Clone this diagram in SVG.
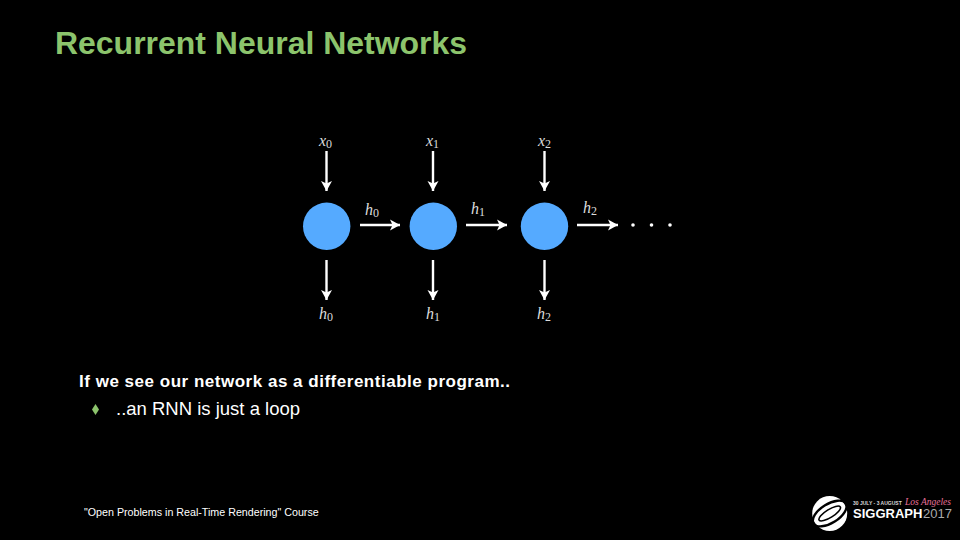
<svg xmlns="http://www.w3.org/2000/svg" width="960" height="540" viewBox="0 0 960 540">
<style>
.t{font-family:"Liberation Sans",Arial,sans-serif}
.m{font-family:"Liberation Serif","Times New Roman",serif;font-style:italic;font-size:16px;fill:#dcdcdc}
.s{font-family:"Liberation Serif","Times New Roman",serif;font-size:12px;fill:#dcdcdc;font-style:normal}
.n{fill:#55aaff}
.c{stroke:#fff;stroke-width:2.4;fill:none}
</style>
<defs>
<marker id="a" markerUnits="userSpaceOnUse" markerWidth="12" markerHeight="12" refX="10" refY="6" orient="auto">
<path d="M0,0.500L10,6L0,11.500L2.500,6Z" fill="#fff"/>
</marker>
</defs>
<rect width="960" height="540" fill="#000"/>
<text class="t" x="55" y="54" font-size="32" font-weight="bold" fill="#8cc46c" textLength="412" lengthAdjust="spacingAndGlyphs">Recurrent Neural Networks</text>
<g id="connectors">
<path class="c" marker-end="url(#a)" d="M326.500 151V191"/>
<path class="c" marker-end="url(#a)" d="M433 151V191"/>
<path class="c" marker-end="url(#a)" d="M544.500 151V191"/>
<path class="c" marker-end="url(#a)" d="M326.500 260V300"/>
<path class="c" marker-end="url(#a)" d="M433 260V300"/>
<path class="c" marker-end="url(#a)" d="M544.500 260V300"/>
<path class="c" marker-end="url(#a)" d="M360 225H400"/>
<path class="c" marker-end="url(#a)" d="M466 225H507"/>
<path class="c" marker-end="url(#a)" d="M577 225H618"/>
</g>
<g id="node-0"><circle class="n" cx="326.700" cy="226.300" r="23.700"/></g>
<g id="node-1"><circle class="n" cx="433.300" cy="226.300" r="23.700"/></g>
<g id="node-2"><circle class="n" cx="544.500" cy="226.300" r="23.700"/></g>
<g id="labels">
<text class="m" x="319" y="146">x<tspan class="s" dy="2">0</tspan></text>
<text class="m" x="426" y="146">x<tspan class="s" dy="2">1</tspan></text>
<text class="m" x="538" y="146">x<tspan class="s" dy="2">2</tspan></text>
<text class="m" x="365" y="215">h<tspan class="s" dy="2">0</tspan></text>
<text class="m" x="471" y="214">h<tspan class="s" dy="2">1</tspan></text>
<text class="m" x="583" y="213">h<tspan class="s" dy="2">2</tspan></text>
<text class="m" x="319" y="319">h<tspan class="s" dy="2">0</tspan></text>
<text class="m" x="426" y="319">h<tspan class="s" dy="2">1</tspan></text>
<text class="m" x="537" y="319">h<tspan class="s" dy="2">2</tspan></text>
</g>
<g id="dots" fill="#fff">
<circle cx="633" cy="225" r="1.800"/><circle cx="651.500" cy="225" r="1.800"/><circle cx="670" cy="225" r="1.800"/>
</g>
<text class="t" x="79" y="387" font-size="17" font-weight="bold" fill="#fff" textLength="431">If we see our network as a differentiable program..</text>
<path d="M95.500 404L99 409.500L95.500 415L92 409.500Z" fill="#8cc46c"/>
<text class="t" x="116" y="415" font-size="18.500" fill="#fff">..an RNN is just a loop</text>
<text class="t" x="84" y="516" font-size="10.700" fill="#fff">"Open Problems in Real-Time Rendering" Course</text>
<g id="logo">
<circle cx="829.700" cy="513.500" r="17.500" fill="#fff"/>
<ellipse cx="829.700" cy="513.500" rx="19" ry="9.500" transform="rotate(-32 829.700 513.500)" fill="none" stroke="#000" stroke-width="2.400"/>
<ellipse cx="829.700" cy="513.500" rx="12.500" ry="4" transform="rotate(-32 829.700 513.500)" fill="none" stroke="#000" stroke-width="1.600"/>
<text class="t" x="853" y="505" font-size="5" font-weight="bold" fill="#d8d8d8">30 JULY - 3 AUGUST</text>
<text x="905" y="505" font-family="'Liberation Serif',serif" font-style="italic" font-size="9.500" fill="#e8709a">Los Angeles</text>
<text class="t" x="853" y="518" font-size="13" font-weight="bold" fill="#fff">SIGGRAPH</text>
<text class="t" x="923" y="518" font-size="13" fill="#aaa">2017</text>
</g>
</svg>
